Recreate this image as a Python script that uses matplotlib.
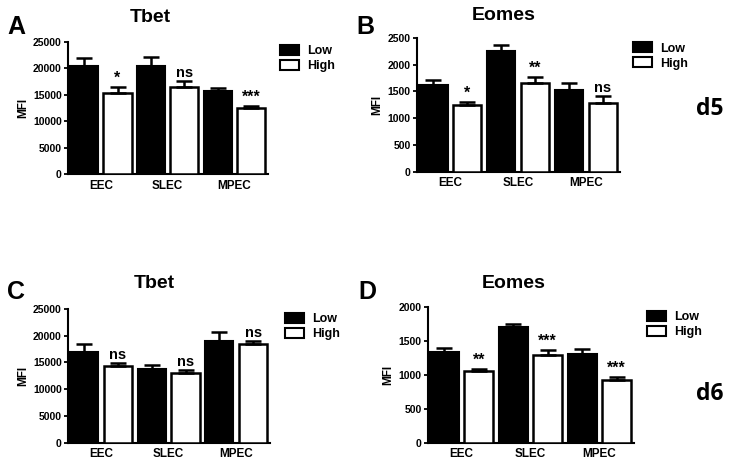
import matplotlib.pyplot as plt
from matplotlib.patches import Patch
import numpy as np

plt.rcParams['font.family'] = ['Liberation Sans', 'DejaVu Sans']

categorias = ['EEC', 'SLEC', 'MPEC']

# d5 Tbet
tbet_d5_low = [20500, 20500, 15800]
tbet_d5_low_err = [1500, 1700, 400]
tbet_d5_high = [15300, 16500, 12450]
tbet_d5_high_err = [1200, 1100, 450]
tbet_d5_sig = ['*', 'ns', '***']

# d5 Eomes
eomes_d5_low = [1610, 2250, 1530]
eomes_d5_low_err = [110, 120, 130]
eomes_d5_high = [1245, 1650, 1287]
eomes_d5_high_err = [60, 110, 125]
eomes_d5_sig = ['*', '**', 'ns']

# d6 Tbet
tbet_d6_low = [16900, 13800, 19000]
tbet_d6_low_err = [1600, 700, 1700]
tbet_d6_high = [14300, 13000, 18500]
tbet_d6_high_err = [600, 600, 500]
tbet_d6_sig = ['ns', 'ns', 'ns']

# d6 Eomes
eomes_d6_low = [1340, 1705, 1310]
eomes_d6_low_err = [60, 45, 75]
eomes_d6_high = [1050, 1290, 920]
eomes_d6_high_err = [35, 70, 40]
eomes_d6_sig = ['**', '***', '***']

W, H = 729, 466
fig = plt.figure(figsize=(W / 100, H / 100), dpi=100)


def px(x, y):
    # pixel (from top-left) -> figure fraction
    return x / W, 1 - y / H


def painel(pos, letra, letra_xy, titulo, titulo_xy, low, low_err, high, high_err,
           sig, ymax, passo, leg_xy):
    ax = fig.add_axes(pos)
    x_low = np.array([0, 2, 4])
    x_high = x_low + 1
    w = 0.84
    ek = dict(ecolor='black', elinewidth=1.8, capsize=6, capthick=1.8)
    ax.bar(x_low, low, w, color='black', edgecolor='black', linewidth=1.5,
           yerr=[[0, 0, 0], low_err], error_kw=ek, zorder=3)
    ax.bar(x_high, high, w, color='white', edgecolor='black', linewidth=1.8,
           yerr=[[0, 0, 0], high_err], error_kw=ek, zorder=3)
    for xi, v, e, s in zip(x_high, high, high_err, sig):
        ax.text(xi, v + e + ymax * 0.01, s, ha='center', va='bottom',
                fontsize=11.5 if s.startswith('*') else 10.5, fontweight='bold')
    ax.set_xlim(-0.48, 5.5)
    ax.set_ylim(0, ymax)
    ax.set_yticks(np.arange(0, ymax + 1, passo))
    ax.set_xticks(x_low + 0.5)
    ax.set_xticklabels(categorias, fontsize=8.5, fontweight='bold')
    ax.tick_params(axis='x', length=0, pad=4)
    ax.tick_params(axis='y', length=3, width=1.3, labelsize=7.5, pad=1.5)
    for t in ax.get_yticklabels():
        t.set_fontweight('bold')
    ax.spines['top'].set_visible(False)
    ax.spines['right'].set_visible(False)
    ax.spines['left'].set_linewidth(1.5)
    ax.spines['bottom'].set_linewidth(1.5)
    ax.set_ylabel('MFI', fontsize=8.5, fontweight='bold', labelpad=3)
    fig.text(*px(*titulo_xy), titulo, fontsize=14, fontweight='bold',
             ha='center', va='center')
    fig.text(*px(*letra_xy), letra, fontsize=18, fontweight='bold',
             ha='center', va='center')
    handles = [Patch(facecolor='black', edgecolor='black', linewidth=1.5, label='Low'),
               Patch(facecolor='white', edgecolor='black', linewidth=1.5, label='High')]
    fig.legend(handles=handles, loc='upper left', bbox_to_anchor=px(*leg_xy),
               frameon=False, prop={'weight': 'bold', 'size': 9},
               handlelength=1.55, handleheight=0.9, labelspacing=0.2,
               handletextpad=0.6, borderaxespad=0, borderpad=0)
    return ax


painel([0.0933, 0.6266, 0.2743, 0.2833], 'A', (16, 27), 'Tbet', (150, 17),
       tbet_d5_low, tbet_d5_low_err, tbet_d5_high, tbet_d5_high_err, tbet_d5_sig,
       25000, 5000, (280, 45))
painel([0.572, 0.6315, 0.2785, 0.2876], 'B', (365, 27), 'Eomes', (504, 15),
       eomes_d5_low, eomes_d5_low_err, eomes_d5_high, eomes_d5_high_err, eomes_d5_sig,
       2500, 500, (633, 42))
painel([0.0933, 0.05, 0.277, 0.287], 'C', (16, 292), 'Tbet', (154, 284),
       tbet_d6_low, tbet_d6_low_err, tbet_d6_high, tbet_d6_high_err, tbet_d6_sig,
       25000, 5000, (285, 313))
painel([0.587, 0.05, 0.2826, 0.2918], 'D', (367, 292), 'Eomes', (514, 283),
       eomes_d6_low, eomes_d6_low_err, eomes_d6_high, eomes_d6_high_err, eomes_d6_sig,
       2000, 500, (647, 311))

fig.text(*px(696, 115), 'd5', fontsize=16.5, fontweight='bold', ha='left',
         va='baseline', family=['Open Sans', 'DejaVu Sans'])
fig.text(*px(696, 400), 'd6', fontsize=16.5, fontweight='bold', ha='left',
         va='baseline', family=['Open Sans', 'DejaVu Sans'])

fig.savefig('out.png', dpi=100)
